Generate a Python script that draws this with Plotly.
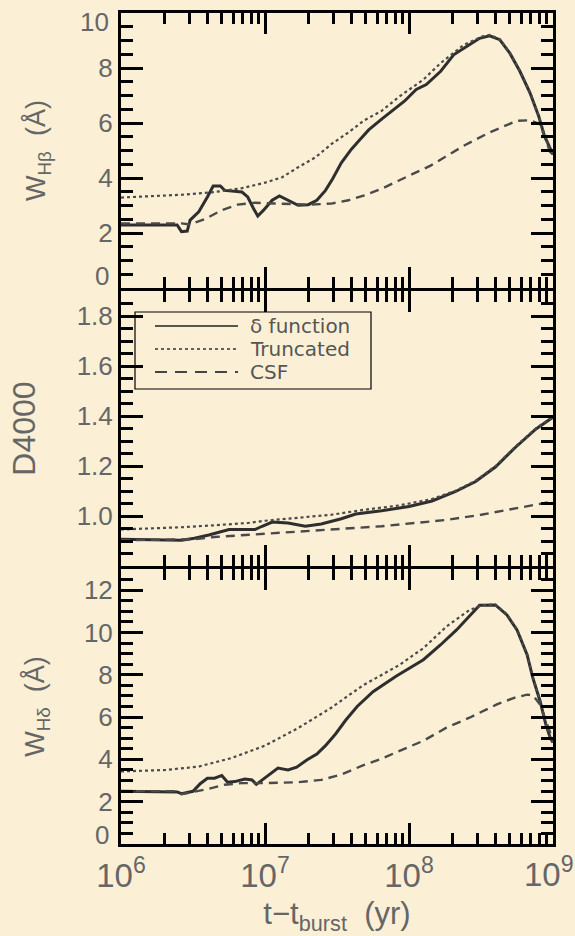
import numpy as np
import plotly.graph_objects as go
from plotly.subplots import make_subplots

# ---------------- data (log10 of t - t_burst in yr, and values) ----------------
# Top panel: W_Hbeta
hb_delta_logt = [6.00, 6.39, 6.42, 6.46, 6.48, 6.54, 6.60, 6.64, 6.69, 6.72, 6.84, 6.88, 6.92, 6.95, 6.99,
                 7.05, 7.10, 7.16, 7.23, 7.30, 7.36, 7.42, 7.47, 7.53, 7.60, 7.66, 7.72, 7.81, 7.90, 7.97,
                 8.05, 8.12, 8.22, 8.31, 8.40, 8.49, 8.56, 8.63, 8.70, 8.77, 8.84, 8.90, 8.94, 8.98, 9.00]
hb_delta = [2.29, 2.29, 2.05, 2.07, 2.47, 2.77, 3.31, 3.71, 3.71, 3.55, 3.49, 3.31, 2.89, 2.62, 2.83,
            3.19, 3.35, 3.19, 3.01, 3.03, 3.19, 3.55, 3.97, 4.55, 5.05, 5.40, 5.75, 6.14, 6.50, 6.80,
            7.22, 7.40, 7.88, 8.48, 8.78, 9.08, 9.17, 9.03, 8.54, 7.88, 7.10, 6.26, 5.54, 5.05, 4.85]
hb_trunc_logt = [6.00, 6.42, 6.65, 6.84, 7.00, 7.12, 7.23, 7.35, 7.46, 7.58, 7.69, 7.81, 7.93, 8.10,
                 8.22, 8.38, 8.51, 8.56, 8.63, 8.70, 8.77, 8.84, 8.90, 8.94, 8.98, 9.00]
hb_trunc = [3.29, 3.39, 3.49, 3.63, 3.83, 4.03, 4.39, 4.75, 5.23, 5.66, 6.10, 6.44, 6.95, 7.58,
            8.18, 8.84, 9.15, 9.20, 9.05, 8.56, 7.90, 7.12, 6.28, 5.56, 5.07, 4.87]
hb_csf_logt = [6.00, 6.42, 6.48, 6.58, 6.70, 6.81, 6.93, 7.12, 7.30, 7.46, 7.58, 7.69, 7.81, 7.93,
               8.15, 8.38, 8.56, 8.75, 8.84, 8.91, 8.95, 8.98, 9.00]
hb_csf = [2.35, 2.35, 2.31, 2.50, 2.83, 3.03, 3.10, 3.07, 3.03, 3.07, 3.19, 3.37, 3.61, 3.91,
          4.45, 5.17, 5.66, 6.08, 6.10, 5.96, 5.42, 4.94, 4.85]

# Middle panel: D4000
d4_delta_logt = [6.00, 6.42, 6.51, 6.61, 6.75, 6.93, 6.98, 7.05, 7.16, 7.28, 7.39, 7.53, 7.63, 7.81,
                 8.00, 8.16, 8.32, 8.46, 8.60, 8.74, 8.88, 9.00]
d4_delta = [0.907, 0.903, 0.911, 0.924, 0.946, 0.946, 0.959, 0.976, 0.972, 0.959, 0.968, 0.989, 1.008,
            1.021, 1.038, 1.060, 1.097, 1.137, 1.196, 1.275, 1.347, 1.395]
d4_trunc_logt = [6.00, 6.42, 6.65, 6.88, 7.00, 7.23, 7.46, 7.69, 7.93, 8.16, 8.32, 8.46, 8.60, 8.74,
                 8.88, 9.00]
d4_trunc = [0.946, 0.955, 0.963, 0.972, 0.981, 0.992, 1.005, 1.025, 1.042, 1.068, 1.100, 1.140, 1.199,
            1.278, 1.350, 1.398]
d4_csf_logt = [6.00, 6.51, 6.65, 6.88, 7.12, 7.35, 7.58, 7.81, 8.04, 8.27, 8.50, 8.74, 9.00]
d4_csf = [0.903, 0.907, 0.916, 0.924, 0.933, 0.940, 0.949, 0.959, 0.972, 0.985, 1.005, 1.029, 1.058]

# Bottom panel: W_Hdelta
hd_delta_logt = [6.00, 6.39, 6.42, 6.50, 6.55, 6.60, 6.65, 6.70, 6.74, 6.79, 6.86, 6.91, 6.94, 6.99,
                 7.05, 7.09, 7.16, 7.22, 7.29, 7.36, 7.42, 7.49, 7.56, 7.64, 7.75, 7.91, 8.10, 8.22,
                 8.33, 8.42, 8.49, 8.60, 8.68, 8.75, 8.82, 8.86, 8.91, 8.95, 8.98, 9.00]
hd_delta = [2.49, 2.46, 2.38, 2.49, 2.85, 3.11, 3.11, 3.24, 2.92, 2.95, 3.07, 3.03, 2.82, 3.07,
            3.39, 3.59, 3.50, 3.63, 3.97, 4.25, 4.65, 5.20, 5.85, 6.50, 7.20, 7.93, 8.71, 9.42,
            10.12, 10.75, 11.29, 11.30, 10.83, 10.12, 8.95, 7.85, 6.76, 5.66, 5.04, 4.80]
hd_trunc_logt = [6.00, 6.31, 6.54, 6.77, 7.00, 7.23, 7.46, 7.68, 7.93, 8.10, 8.26, 8.42, 8.51, 8.60,
                 8.68, 8.75, 8.82, 8.86, 8.91, 8.95, 8.98, 9.00]
hd_trunc = [3.43, 3.50, 3.66, 4.07, 4.65, 5.48, 6.44, 7.50, 8.45, 9.26, 10.28, 11.06, 11.29, 11.32,
            10.86, 10.15, 8.98, 7.88, 6.79, 5.69, 5.07, 4.83]
hd_csf_logt = [6.00, 6.39, 6.42, 6.51, 6.61, 6.72, 6.84, 7.00, 7.23, 7.39, 7.53, 7.68, 7.80, 7.91,
               8.10, 8.26, 8.42, 8.61, 8.73, 8.82, 8.86, 8.91, 8.95, 8.98, 9.00]
hd_csf = [2.50, 2.50, 2.35, 2.46, 2.61, 2.80, 2.88, 2.88, 2.92, 3.03, 3.28, 3.72, 4.00, 4.33,
          4.88, 5.50, 5.97, 6.60, 6.91, 7.06, 7.03, 6.60, 5.82, 5.20, 4.90]

series_names = ["δ function", "Truncated", "CSF"]
x_tickvals = [1e6, 1e7, 1e8, 1e9]
x_ticktext = ["10<sup>6</sup>", "10<sup>7</sup>", "10<sup>8</sup>", ""]
x_last_label = "10<sup>9</sup>"

# ---------------- styling ----------------
BG = "#FBF0D6"
TXT = "#666666"
FONT = "Liberation Sans, Arial, sans-serif"
LFONT = "DejaVu Sans, Liberation Sans, sans-serif"
styles = [
    dict(color="#2e2e2e", width=3),
    dict(color="#4a4a4a", width=2.2, dash="dot"),
    dict(color="#4a4a4a", width=2.4, dash="9px,6px"),
]
legend_styles = [
    dict(color="#222222", width=1.6),
    dict(color="#333333", width=1.6, dash="dot"),
    dict(color="#444444", width=2, dash="12px,8px"),
]

fig = make_subplots(rows=3, cols=1, shared_xaxes=True, vertical_spacing=0)

panels = [
    [(hb_delta_logt, hb_delta), (hb_trunc_logt, hb_trunc), (hb_csf_logt, hb_csf)],
    [(d4_delta_logt, d4_delta), (d4_trunc_logt, d4_trunc), (d4_csf_logt, d4_csf)],
    [(hd_delta_logt, hd_delta), (hd_trunc_logt, hd_trunc), (hd_csf_logt, hd_csf)],
]
for r, panel in enumerate(panels, start=1):
    for k, (lt, v) in enumerate(panel):
        fig.add_trace(go.Scatter(
            x=np.power(10.0, np.array(lt)), y=v, mode="lines", line=styles[k],
            name=series_names[k], showlegend=False,
        ), row=r, col=1)

axis_common = dict(showline=True, linecolor="black", linewidth=3, mirror="allticks",
                   ticks="inside", tickwidth=3, tickcolor="black", showgrid=False, zeroline=False,
                   automargin=False, tickfont=dict(family=FONT, size=26, color=TXT))
for r in range(1, 4):
    fig.update_xaxes(type="log", range=[6, 9], tickvals=x_tickvals, ticktext=x_ticktext, ticklen=21,
                     minor=dict(ticks="inside", ticklen=11, tickwidth=3, tickcolor="black", dtick="D1"),
                     showticklabels=(r == 3), row=r, col=1, **axis_common)

XT_FONT = dict(family=FONT, size=33, color=TXT)
fig.update_xaxes(tickfont=XT_FONT,
                 title=dict(text="t−t<sub>burst</sub>  (yr)", font=dict(family=FONT, size=31, color=TXT),
                            standoff=16), row=3, col=1)

H = 831.0
dom3 = [0, 275 / H]
dom2 = [278 / H, 553 / H]
dom1 = [556 / H, 1]

fig.update_yaxes(domain=dom1, range=[0, 10], tickvals=[0, 2, 4, 6, 8, 10], ticktext=["", "2", "4", "6", "8", ""],
                 ticklen=22, minor=dict(ticks="inside", ticklen=12, tickwidth=3, tickcolor="black", dtick=0.5),
                 title=dict(text="W<sub>Hβ</sub>  (Å)", font=dict(family=FONT, size=27, color=TXT), standoff=45),
                 row=1, col=1, **axis_common)
fig.update_yaxes(domain=dom2, range=[0.8, 1.9], tickvals=[1.0, 1.2, 1.4, 1.6, 1.8],
                 ticktext=["1.0", "1.2", "1.4", "1.6", "1.8"],
                 ticklen=22, minor=dict(ticks="inside", ticklen=12, tickwidth=3, tickcolor="black", dtick=0.05, tick0=0.8),
                 title=dict(text="D4000", font=dict(family=FONT, size=32, color=TXT), standoff=32),
                 row=2, col=1, **axis_common)
fig.update_yaxes(domain=dom3, range=[0, 13], tickvals=[0, 2, 4, 6, 8, 10, 12],
                 ticktext=["", "2", "4", "6", "8", "10", "12"],
                 ticklen=22, minor=dict(ticks="inside", ticklen=12, tickwidth=3, tickcolor="black", dtick=0.5),
                 title=dict(text="W<sub>Hδ</sub>  (Å)", font=dict(family=FONT, size=27, color=TXT), standoff=32),
                 row=3, col=1, **axis_common)

# end labels nudged inward (as in the original)
lab_font = dict(family=FONT, size=26, color=TXT)
fig.add_annotation(text="10", x=0, xref="paper", xanchor="right", xshift=-10, y=10, yref="y", yshift=-9,
                   showarrow=False, font=lab_font)
fig.add_annotation(text="0", x=0, xref="paper", xanchor="right", xshift=-10, y=0, yref="y", yshift=12,
                   showarrow=False, font=lab_font)
fig.add_annotation(text="0", x=0, xref="paper", xanchor="right", xshift=-10, y=0, yref="y3", yshift=9,
                   showarrow=False, font=lab_font)
# last x label kept inside the page
fig.add_annotation(text=x_last_label, x=1, xref="paper", xanchor="right", xshift=22, borderpad=0,
                   y=0, yref="paper", yanchor="top", yshift=-6, showarrow=False, font=XT_FONT)

# legend box drawn in the middle panel (paper coordinates)
def px_x(p):
    return (p - 121) / 432.0

def px_y(p):
    return (844 - p) / H

fig.add_shape(type="rect", xref="paper", yref="paper", x0=px_x(135), x1=px_x(371), y0=px_y(389), y1=px_y(312),
              line=dict(color="black", width=1.2), fillcolor="rgba(0,0,0,0)")
legend_rows_y = [326, 349, 372]
for k, name in enumerate(series_names):
    yy = px_y(legend_rows_y[k])
    fig.add_shape(type="line", xref="paper", yref="paper", x0=px_x(155), x1=px_x(238), y0=yy, y1=yy,
                  line=legend_styles[k])
    fig.add_annotation(text=name, xref="paper", yref="paper", x=px_x(249), y=yy, xanchor="left",
                       yanchor="middle", showarrow=False, borderpad=0,
                       font=dict(family=LFONT, size=20, color="#555555"))

fig.update_layout(
    width=575, height=936,
    margin=dict(l=121, r=22, t=13, b=92),
    paper_bgcolor=BG, plot_bgcolor=BG,
    font=dict(family=FONT, color=TXT),
    showlegend=False,
)

fig.write_html("out.html")
